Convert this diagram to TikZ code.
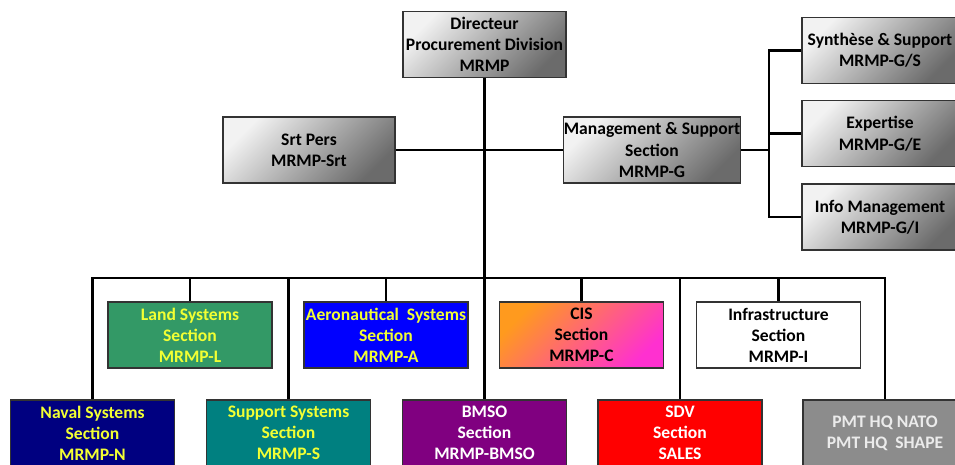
\documentclass[tikz,border=0pt]{standalone}
\usepackage{fontspec}
\setmainfont{Carlito}
\usepackage{xcolor}
\definecolor{landgreen}{HTML}{339966}
\definecolor{aeroblue}{HTML}{0000FF}
\definecolor{navalblue}{HTML}{000080}
\definecolor{supteal}{HTML}{008080}
\definecolor{bmsopurple}{HTML}{800080}
\definecolor{sdvred}{HTML}{FF0000}
\definecolor{pmtgray}{HTML}{8C8C8C}
\definecolor{cisorange}{HTML}{FF9A1E}
\definecolor{cismagenta}{HTML}{FF30D0}
\definecolor{labelyellow}{HTML}{F2FF33}
\definecolor{edgegray}{HTML}{333333}
\usepackage{tikz}
\usetikzlibrary{positioning}
\tikzset{
    unit/.style={
        rectangle, draw=edgegray, line width=0.7pt,
        align=center, inner xsep=0pt, inner ysep=2pt,
        font=\fontsize{10}{12}\selectfont\bfseries,
        minimum width=3.28cm, minimum height=1.32cm
    },
    staff/.style={
        unit,
        top color=white!95!black, bottom color=black!58,
        shading angle=45,
        minimum width=3.44cm
    },
    section/.style={
        unit,
        fill=#1
    },
    yellowtext/.style={
        text=labelyellow
    },
    conn/.style={
        line width=1.6pt,
    },
    trunk/.style={
        line width=2.2pt,
    },
}

\begin{document}
\begin{tikzpicture}[x=0.02cm, y=-0.02cm]
    \clip (0,0) rectangle (955,465);
    % Directorate and staff
    \node[staff, minimum width=3.26cm] (dir) at (484.5,44.5) {Directeur\\Procurement Division\\MRMP};
    \node[staff] (srt) at (309,150) {Srt Pers\\MRMP-Srt};
    \node[staff] (mgmt) at (652,150) {Management \& Support\\Section\\MRMP-G};

    \node[staff, minimum width=3.12cm] (synth) at (880,50.5) {Synthèse \& Support\\MRMP-G/S};
    \node[staff, minimum width=3.12cm, below=0.32cm of synth] (exp) {Expertise\\MRMP-G/E};
    \node[staff, minimum width=3.12cm, below=0.32cm of exp] (info) {Info Management\\MRMP-G/I};
    \coordinate (fork) at (769,150);

    % Sections, first row
    \node[section=landgreen, yellowtext] (land) at (190,335) {Land Systems\\Section\\MRMP-L};
    \node[section=aeroblue, yellowtext] (aero) at (386,335) {Aeronautical\ \ Systems\\Section\\MRMP-A};
    \node[unit, top color=cisorange, bottom color=cismagenta, shading angle=45] (cis) at (581.5,335) {CIS\\Section\\MRMP-C};
    \node[section=white] (infra) at (778.5,335) {Infrastructure\\Section\\MRMP-I};

    % Sections, second row
    \node[section=navalblue, yellowtext] (naval) at (92.5,433) {Naval Systems\\Section\\MRMP-N};
    \node[section=supteal, yellowtext] (support) at (288.5,433) {Support Systems\\Section\\MRMP-S};
    \node[section=bmsopurple, text=white] (bmso) at (484.5,433) {BMSO\\Section\\MRMP-BMSO};
    \node[section=sdvred, text=white] (sdv) at (680,433) {SDV\\Section\\SALES};
    \node[section=pmtgray, text=white!92!black] (pmt) at (885,433) {PMT HQ NATO\\PMT HQ\ \ SHAPE};
    \coordinate (bus) at (484.5,278);

    % Connectors
    \draw[trunk] (dir) -- (bmso);
    \draw[conn] (srt) -- (mgmt);
    \draw[conn] (mgmt) -- (fork);
    \draw[conn] (synth.west) -| (fork) |- (info.west);
    \draw[conn] (exp.west) -- (exp.west -| fork);
    \draw[conn] (naval.north) |- (bus) -| (pmt.north);
    \foreach \sec in {land, aero, cis, infra, support, sdv}
        \draw[conn] (bus) -| (\sec.north);
\end{tikzpicture}
\end{document}
